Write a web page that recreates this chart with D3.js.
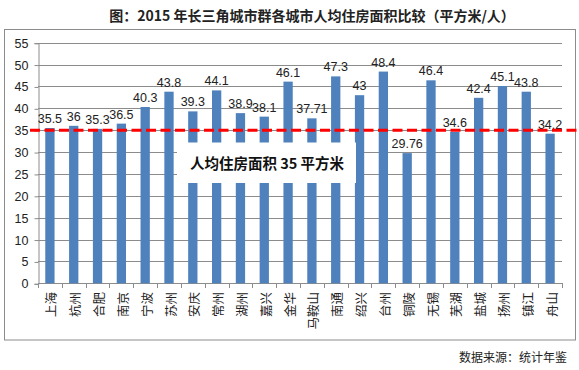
<!DOCTYPE html>
<html>
<head>
<meta charset="utf-8">
<script src="https://cdn.jsdelivr.net/npm/d3@7/dist/d3.min.js"></script>
<style>
  body { margin: 0; background: #fff; }
  svg { display: block; }
</style>
</head>
<body>
<div id="chart"></div>
<script>
// cities and per-capita housing area (m2/person), 2015
let cities = ['上海', '杭州', '合肥', '南京', '宁波', '苏州', '安庆', '常州', '湖州', '嘉兴', '金华',
  '马鞍山', '南通', '绍兴', '台州', '铜陵', '无锡', '芜湖', '盐城', '扬州', '镇江', '舟山'];
let areas = [35.5, 36, 35.3, 36.5, 40.3, 43.8, 39.3, 44.1, 38.9, 38.1, 46.1,
  37.71, 47.3, 43, 48.4, 29.76, 46.4, 34.6, 42.4, 45.1, 43.8, 34.2];
let yTicks = [0, 5, 10, 15, 20, 25, 30, 35, 40, 45, 50, 55];
let avgLine = 35; // average reference line
let titleText = '图：2015 年长三角城市群各城市人均住房面积比较（平方米/人）';
let noteText = '人均住房面积 35 平方米';
let sourceText = '数据来源：统计年鉴';

let width = 579, height = 370;
let plot = { left: 38, right: 562, top: 42.7, bottom: 283.3 };

let data = cities.map(function(c, i) { return { city: c, value: areas[i] }; });

let svg = d3.select('#chart').append('svg')
  .attr('width', width)
  .attr('height', height);

// title
svg.append('text')
  .attr('x', 312).attr('y', 21)
  .attr('text-anchor', 'middle')
  .style('font-family', '"Noto Sans CJK SC", sans-serif')
  .style('font-weight', 'bold')
  .style('font-size', '14px')
  .attr('fill', '#222')
  .text(titleText);

// chart frame
svg.append('rect')
  .attr('x', 4.5).attr('y', 29.5)
  .attr('width', 571).attr('height', 310.5)
  .attr('fill', 'none')
  .attr('stroke', '#8c8c8c');

let xScale = d3.scaleBand()
  .domain(cities)
  .range([plot.left, plot.right])
  .paddingInner(0.61)
  .paddingOuter(0.305);

let yScale = d3.scaleLinear()
  .domain([0, 55])
  .range([plot.bottom, plot.top]);

// gridlines
svg.append('g')
  .selectAll('line')
  .data(yTicks.slice(1))
  .enter()
  .append('line')
  .attr('x1', plot.left).attr('x2', plot.right)
  .attr('y1', function(d) { return Math.round(yScale(d)) + 0.5; })
  .attr('y2', function(d) { return Math.round(yScale(d)) + 0.5; })
  .attr('stroke', '#8c8c8c');

// y axis
let yAxis = svg.append('g')
  .attr('transform', 'translate(' + (plot.left + 0.5) + ',0.5)')
  .call(d3.axisLeft(yScale).tickValues(yTicks).tickSize(4).tickPadding(6));
yAxis.select('.domain').attr('stroke', '#8c8c8c');
yAxis.selectAll('.tick line').attr('stroke', '#8c8c8c');
yAxis.selectAll('.tick text')
  .style('font-family', '"Liberation Sans", Arial, sans-serif')
  .style('font-size', '12.5px')
  .attr('fill', '#222');

// x axis line and boundary ticks
let step = xScale.step();
let xAxis = svg.append('g');
xAxis.append('line')
  .attr('x1', plot.left).attr('x2', plot.right)
  .attr('y1', Math.round(plot.bottom) + 0.5).attr('y2', Math.round(plot.bottom) + 0.5)
  .attr('stroke', '#8c8c8c');
xAxis.selectAll('.xtick')
  .data(d3.range(cities.length + 1))
  .enter()
  .append('line')
  .attr('class', 'xtick')
  .attr('x1', function(i) { return Math.round(plot.left + i * step) + 0.5; })
  .attr('x2', function(i) { return Math.round(plot.left + i * step) + 0.5; })
  .attr('y1', Math.round(plot.bottom)).attr('y2', Math.round(plot.bottom) + 5)
  .attr('stroke', '#8c8c8c');

// bars
svg.selectAll('.bar')
  .data(data)
  .enter()
  .append('rect')
  .attr('class', 'bar')
  .attr('x', function(d) { return xScale(d.city); })
  .attr('y', function(d) { return yScale(d.value); })
  .attr('width', xScale.bandwidth())
  .attr('height', function(d) { return plot.bottom - yScale(d.value); })
  .attr('fill', '#4f81bd');

// value labels
svg.selectAll('.val')
  .data(data)
  .enter()
  .append('text')
  .attr('class', 'val')
  .attr('x', function(d) { return xScale(d.city) + xScale.bandwidth() / 2; })
  .attr('y', function(d) { return yScale(d.value) - 5; })
  .attr('text-anchor', 'middle')
  .style('font-family', '"Liberation Sans", Arial, sans-serif')
  .style('font-size', '12.5px')
  .attr('fill', '#222')
  .text(function(d) { return String(d.value); });

// category labels, rotated
svg.selectAll('.cat')
  .data(data)
  .enter()
  .append('text')
  .attr('class', 'cat')
  .attr('transform', function(d) {
    return 'translate(' + (xScale(d.city) + xScale.bandwidth() / 2 + 1) + ',292) rotate(-90)';
  })
  .attr('text-anchor', 'end')
  .attr('dominant-baseline', 'central')
  .style('font-family', '"Noto Sans CJK SC", sans-serif')
  .style('font-size', '12.5px')
  .attr('fill', '#222')
  .text(function(d) { return d.city; });

// annotation box
svg.append('rect')
  .attr('x', 177).attr('y', 142.5)
  .attr('width', 179).attr('height', 40.5)
  .attr('fill', '#fff');
svg.append('text')
  .attr('x', 267).attr('y', 165)
  .attr('text-anchor', 'middle')
  .attr('dominant-baseline', 'middle')
  .style('font-family', '"Noto Sans CJK SC", sans-serif')
  .style('font-weight', 'bold')
  .style('font-size', '14.5px')
  .attr('fill', '#111')
  .text(noteText);

// average line
svg.append('line')
  .attr('x1', 30).attr('x2', 579)
  .attr('y1', yScale(avgLine)).attr('y2', yScale(avgLine))
  .attr('stroke', '#ff0000')
  .attr('stroke-width', 3)
  .attr('stroke-dasharray', '10,4.5');

// source
svg.append('text')
  .attr('x', 567).attr('y', 362)
  .attr('text-anchor', 'end')
  .style('font-family', '"Noto Sans CJK SC", sans-serif')
  .style('font-size', '12px')
  .attr('fill', '#222')
  .text(sourceText);
</script>
</body>
</html>
